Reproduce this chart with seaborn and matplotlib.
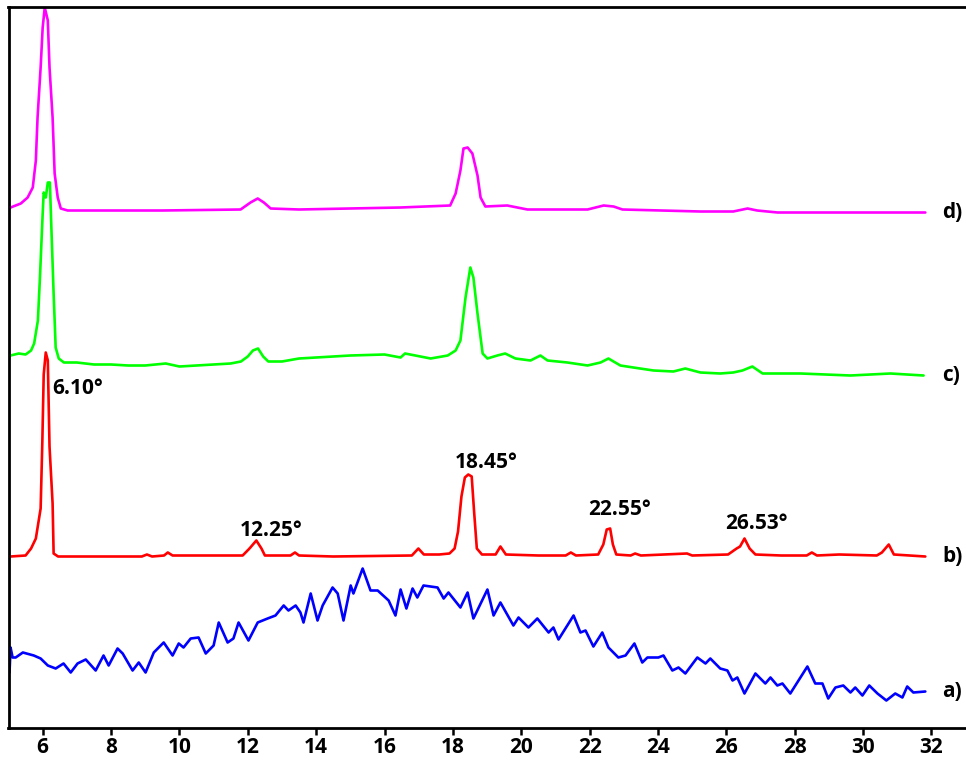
import pandas as pd
import matplotlib.pyplot as plt
import seaborn as sns

# --- XRD patterns (2theta in degrees, intensity in a.u.) ---
a_angle = [5.03, 5.06, 5.12, 5.21, 5.42, 5.74, 5.94, 6.15, 6.38, 6.61,
           6.82, 7.02, 7.26, 7.55, 7.78, 7.93, 8.19, 8.34, 8.63, 8.81,
           9.01, 9.25, 9.54, 9.80, 9.98, 10.12, 10.33, 10.56, 10.77, 11.00,
           11.15, 11.41, 11.58, 11.73, 12.02, 12.29, 12.58, 12.81, 13.05, 13.19,
           13.40, 13.54, 13.63, 13.84, 14.04, 14.19, 14.48, 14.63, 14.80, 15.01,
           15.09, 15.36, 15.59, 15.80, 16.12, 16.32, 16.47, 16.64, 16.82, 16.96,
           17.14, 17.55, 17.73, 17.87, 18.22, 18.43, 18.60, 19.01, 19.19, 19.39,
           19.77, 19.92, 20.21, 20.47, 20.80, 20.94, 21.09, 21.53, 21.73, 21.88,
           22.11, 22.37, 22.55, 22.84, 23.05, 23.31, 23.54, 23.69, 24.01, 24.16,
           24.42, 24.60, 24.80, 25.15, 25.39, 25.53, 25.82, 26.03, 26.18, 26.32,
           26.53, 26.85, 27.14, 27.29, 27.49, 27.64, 27.87, 28.37, 28.60, 28.81,
           28.98, 29.19, 29.42, 29.63, 29.77, 29.98, 30.18, 30.42, 30.68, 30.94,
           31.15, 31.29, 31.47, 31.82]
a_int = [55, 80, 70, 70, 75, 72, 69, 62, 59, 64,
         55, 64, 68, 57, 72, 62, 79, 74, 57, 65,
         55, 75, 85, 72, 84, 80, 89, 90, 74, 82,
         105, 85, 89, 105, 87, 105, 109, 112, 122, 117,
         122, 115, 105, 134, 107, 122, 140, 134, 107, 142,
         134, 159, 137, 137, 127, 112, 138, 119, 139, 130,
         142, 140, 129, 135, 120, 135, 109, 138, 112, 125,
         102, 110, 100, 109, 95, 100, 88, 112, 95, 97,
         81, 95, 80, 70, 72, 84, 65, 70, 70, 72,
         57, 60, 54, 70, 64, 69, 59, 57, 47, 50,
         34, 54, 44, 50, 42, 44, 34, 61, 44, 44,
         29, 40, 42, 35, 40, 32, 42, 34, 27, 34,
         30, 41, 35, 36]

b_angle = [5.06, 5.50, 5.66, 5.80, 5.94, 5.99, 6.03, 6.09, 6.15, 6.20,
           6.29, 6.32, 6.45, 8.90, 9.05, 9.20, 9.55, 9.66, 9.80, 11.85,
           12.05, 12.25, 12.40, 12.50, 13.25, 13.38, 13.50, 14.50, 16.80, 16.99,
           17.15, 17.60, 17.90, 18.05, 18.15, 18.25, 18.35, 18.45, 18.55, 18.62,
           18.70, 18.85, 19.25, 19.39, 19.55, 20.50, 21.30, 21.45, 21.60, 22.25,
           22.40, 22.50, 22.60, 22.68, 22.78, 23.20, 23.33, 23.50, 24.85, 25.00,
           26.05, 26.30, 26.40, 26.53, 26.68, 26.85, 27.60, 28.35, 28.50, 28.65,
           29.30, 30.40, 30.55, 30.75, 30.90, 31.82]
b_int = [0, 1, 8, 18, 48, 115, 182, 204, 196, 110,
         53, 3, 0, 0, 2, 0, 1, 4, 1, 1,
         8, 16, 8, 1, 1, 4, 1, 0, 1, 8,
         2, 2, 3, 8, 25, 60, 79, 82, 80, 45,
         8, 2, 2, 10, 2, 1, 1, 4, 1, 2,
         12, 27, 28, 12, 2, 1, 3, 1, 3, 1,
         2, 8, 10, 18, 8, 2, 1, 1, 4, 1,
         2, 1, 4, 12, 2, 0]

c_angle = [5.06, 5.30, 5.50, 5.66, 5.75, 5.86, 5.92, 6.00, 6.03, 6.09,
           6.15, 6.21, 6.26, 6.32, 6.38, 6.47, 6.62, 7.00, 7.50, 8.00,
           8.50, 9.00, 9.60, 10.00, 10.50, 11.00, 11.50, 11.80, 12.00, 12.15,
           12.30, 12.45, 12.60, 13.00, 13.50, 14.00, 15.00, 16.00, 16.47, 16.60,
           17.35, 17.85, 18.08, 18.22, 18.37, 18.51, 18.60, 18.72, 18.87, 19.01,
           19.30, 19.53, 19.83, 20.27, 20.56, 20.77, 21.35, 21.94, 22.32, 22.55,
           22.90, 23.28, 23.87, 24.45, 24.80, 25.24, 25.82, 26.20, 26.47, 26.76,
           27.06, 28.17, 29.63, 30.80, 31.77]
c_int = [22, 24, 23, 27, 34, 57, 100, 164, 185, 180,
         195, 195, 144, 84, 30, 19, 15, 15, 13, 13,
         12, 12, 14, 11, 12, 13, 14, 16, 21, 27,
         29, 21, 16, 16, 19, 20, 22, 23, 20, 24,
         19, 22, 27, 37, 80, 110, 100, 64, 24, 19,
         22, 24, 19, 17, 22, 17, 15, 12, 15, 19,
         12, 10, 7, 6, 9, 5, 4, 5, 7, 11,
         4, 4, 2, 4, 2]

d_angle = [5.06, 5.36, 5.56, 5.71, 5.80, 5.85, 5.94, 6.00, 6.06, 6.15,
           6.20, 6.29, 6.35, 6.44, 6.53, 6.73, 9.50, 11.79, 12.08, 12.29,
           12.47, 12.67, 13.50, 16.47, 17.92, 18.08, 18.22, 18.31, 18.43, 18.57,
           18.72, 18.81, 18.95, 19.59, 20.18, 21.94, 22.41, 22.70, 22.96, 25.24,
           26.20, 26.62, 26.90, 27.50, 31.82]
d_int = [5, 9, 15, 25, 52, 95, 145, 185, 205, 192,
         145, 95, 39, 15, 4, 2, 2, 3, 10, 14,
         10, 4, 3, 5, 7, 19, 42, 64, 65, 59,
         37, 15, 6, 7, 3, 3, 7, 6, 3, 1,
         1, 4, 2, 0, 0]

samples = ["a)", "b)", "c)", "d)"]
offsets = [0, 171, 350, 515]
colors = ["#0000FF", "#FF0000", "#00FF00", "#FF00FF"]

# peak labels on pattern b)
peak_labels = ["6.10°", "12.25°", "18.45°", "22.55°", "26.53°"]
peak_label_x = [7.02, 12.69, 18.99, 22.89, 26.88]
peak_label_y = [339, 197, 265, 218, 204]

frames = []
for name, off, xs, ys in zip(samples, offsets,
                             [a_angle, b_angle, c_angle, d_angle],
                             [a_int, b_int, c_int, d_int]):
    frames.append(pd.DataFrame({"angle": xs,
                                "intensity": [v + off for v in ys],
                                "sample": name}))
df = pd.concat(frames, ignore_index=True)

sns.set_style("white")
plt.rcParams['font.family'] = ['Open Sans', 'DejaVu Sans']
plt.rcParams['text.color'] = 'black'
plt.rcParams['xtick.color'] = 'black'

fig = plt.figure(figsize=(9.66, 7.61), dpi=100)
ax = fig.add_axes([8.5 / 966, 33.5 / 761, 1 - 8.5 / 966, 721 / 761])

sns.lineplot(data=df, x="angle", y="intensity", hue="sample", hue_order=samples,
             palette=colors, estimator=None, sort=False, linewidth=1.9,
             legend=False, ax=ax)
for line in ax.get_lines():
    line.set_solid_joinstyle("round")

for lab, x, y in zip(peak_labels, peak_label_x, peak_label_y):
    ax.text(x, y, lab, ha="center", va="center", fontsize=15, fontweight="bold",
            color="black")

for name, off, ys in zip(samples, offsets, [a_int, b_int, c_int, d_int]):
    ax.text(32.32, off + ys[-1], name, ha="left", va="center",
            fontsize=15, fontweight="bold", color="black")

ax.set_xlim(5, 33.01)
ax.set_ylim(0, 721)
ax.set_xticks(range(6, 33, 2))
ax.set_yticks([])
ax.set_xlabel("")
ax.set_ylabel("")
ax.tick_params(axis="x", direction="out", length=5, width=1.8, labelsize=15,
               bottom=True, pad=1.5, colors="black")
for lab in ax.get_xticklabels():
    lab.set_fontweight("bold")

for side in ["left", "bottom", "top"]:
    ax.spines[side].set_color("black")
    ax.spines[side].set_linewidth(2)
ax.spines["right"].set_visible(False)

fig.savefig("out.png", dpi=100)
